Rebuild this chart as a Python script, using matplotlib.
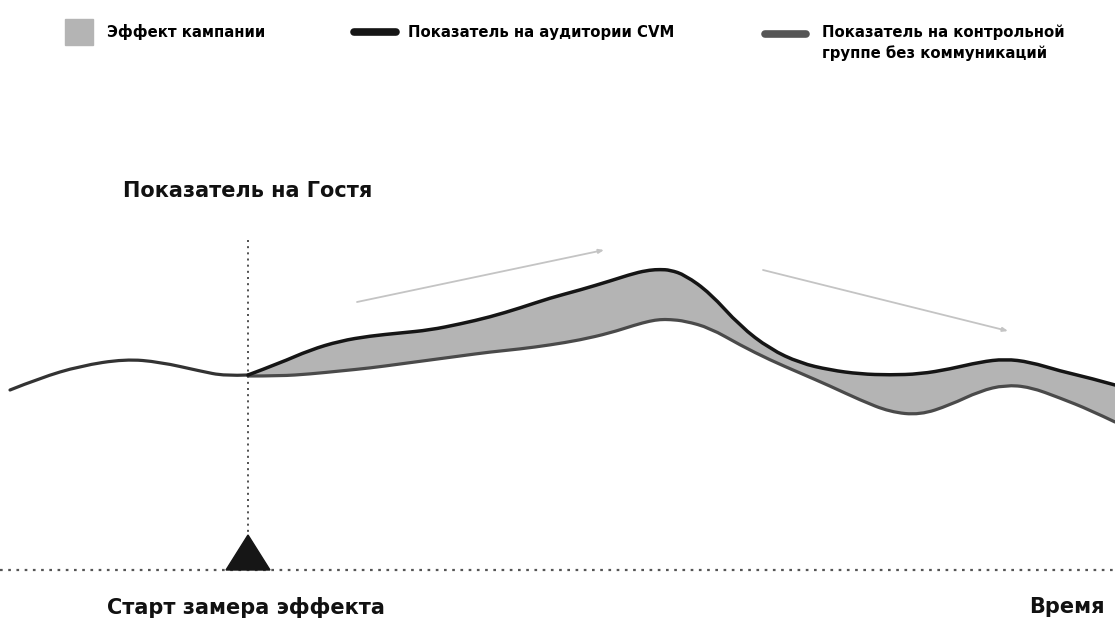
import numpy as np
import matplotlib
matplotlib.use('Agg')
import matplotlib.pyplot as plt
from matplotlib.path import Path
from matplotlib.patches import PathPatch

# Left part, before the campaign starts (both groups share it).
x_pre = [10, 40, 80, 125, 160, 200, 225, 248]
y_pre = [390, 378, 366, 359, 362, 371, 376, 375]

# After the start of the campaign.
x_post = [248, 280, 310, 340, 370, 400, 430, 460, 490, 520, 550, 580, 610, 635,
          650, 660, 670, 685, 710, 740, 770, 800, 830, 860, 890, 920, 950, 980,
          1005, 1030, 1060, 1090, 1115]
y_cvm = [375, 363, 350, 341, 336, 333, 330, 324, 317, 308, 298, 290, 281, 273,
         270, 269.5, 270, 275, 293, 326, 349, 363, 370, 374, 375, 374, 369, 362,
         359, 362, 371, 378, 385]
y_ctrl = [376, 376, 374, 371, 368, 364, 360, 356, 352, 349, 345, 340, 333, 325,
          321, 319.5, 319.5, 321, 328, 345, 360, 373, 386, 400, 412, 415, 405, 391,
          385, 387, 398, 410, 422]

start_x = 248
base_y = 570

legend_labels = ['Эффект кампании', 'Показатель на аудитории CVM',
                 'Показатель на контрольной\nгруппе без коммуникаций']

FONT = 'DejaVu Sans'


# Quadratic bezier through the midpoints, the points themselves are controls.
def smooth_path(xs, ys):
	p = np.column_stack([xs, ys]).astype(float)
	verts = [p[0]]
	codes = [Path.MOVETO]
	n = len(p)
	for i in range(1, n - 1):
		end = p[i + 1] if i == n - 2 else (p[i] + p[i + 1]) / 2
		verts += [p[i], end]
		codes += [Path.CURVE3, Path.CURVE3]
	return verts, codes


def draw_curve(ax, xs, ys, **kw):
	verts, codes = smooth_path(xs, ys)
	ax.add_patch(PathPatch(Path(verts, codes), fill=False, capstyle='round', **kw))


def main():
	fig = plt.figure(figsize=(11.15, 6.19), dpi=100)
	ax = fig.add_axes([0, 0, 1, 1])
	ax.set_xlim(0, 1115)
	ax.set_ylim(619, 0)
	ax.axis('off')

	# Campaign effect area (between both smoothed curves).
	v_top, c_top = smooth_path(x_post, y_cvm)
	v_bot, c_bot = smooth_path(x_post[::-1], y_ctrl[::-1])
	c_bot[0] = Path.LINETO
	area = Path(v_top + v_bot + [v_top[0]], c_top + c_bot + [Path.CLOSEPOLY])
	ax.add_patch(PathPatch(area, facecolor='#b4b4b4', lw=0, zorder=1))

	draw_curve(ax, x_pre, y_pre, edgecolor='#333333', lw=2.3, zorder=3)
	draw_curve(ax, x_post, y_ctrl, edgecolor='#4a4a4a', lw=2.3, zorder=2)
	draw_curve(ax, x_post, y_cvm, edgecolor='#151515', lw=2.5, zorder=3)

	# Dotted axes.
	ax.plot([start_x, start_x], [240, base_y], color='#333333', lw=1.2,
	        ls=(0, (1.2, 2.5)), zorder=0)
	ax.plot([0, 1115], [base_y, base_y], color='#555555', lw=1.6,
	        ls=(0, (1.2, 2.5)), zorder=0)
	ax.fill([start_x - 22, start_x, start_x + 22], [base_y, 535, base_y],
	        color='#161616', zorder=4)

	# Trend arrows.
	arrow = dict(arrowstyle='-|>,head_length=0.3,head_width=0.12', color='#c4c4c4',
	             lw=1.3, shrinkA=0, shrinkB=0)
	ax.annotate('', xy=(604, 250), xytext=(357, 302), arrowprops=arrow)
	ax.annotate('', xy=(1008, 331), xytext=(763, 270), arrowprops=arrow)

	# Labels.
	ax.text(123, 191, 'Показатель на Гостя', fontsize=15, fontfamily=FONT,
	        fontweight='semibold', va='center', ha='left', color='#111111')
	ax.text(107, 607, 'Старт замера эффекта', fontsize=15, fontfamily=FONT,
	        fontweight='semibold', va='center', ha='left', color='#111111')
	ax.text(1105, 607, 'Время', fontsize=15, fontfamily=FONT,
	        fontweight='semibold', va='center', ha='right', color='#111111')

	# Legend drawn by hand.
	ax.fill([65, 93, 93, 65], [19, 19, 45, 45], color='#b4b4b4')
	ax.text(107, 32, legend_labels[0], fontsize=10.7, fontfamily=FONT,
	        fontweight='bold', va='center', ha='left')
	ax.plot([354, 396], [32, 32], color='#151515', lw=5.5, solid_capstyle='round')
	ax.text(408, 32, legend_labels[1], fontsize=10.7, fontfamily=FONT,
	        fontweight='bold', va='center', ha='left')
	ax.plot([765, 806], [34, 34], color='#555555', lw=5.5, solid_capstyle='round')
	ax.text(822, 43, legend_labels[2], fontsize=10.7, fontfamily=FONT,
	        fontweight='bold', va='center', ha='left', linespacing=1.45)

	fig.savefig('out.png', dpi=100)


if __name__ == '__main__':
	main()
